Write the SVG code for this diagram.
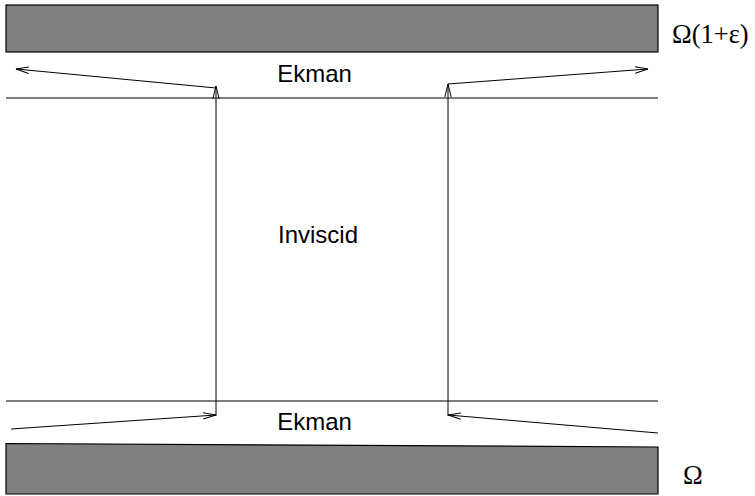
<svg xmlns="http://www.w3.org/2000/svg" width="755" height="496" viewBox="0 0 755 496">
<defs>
<marker id="ah" markerWidth="14" markerHeight="8" refX="13" refY="4" orient="auto" markerUnits="userSpaceOnUse">
<path d="M0,0.8 L13,4 L0,7.2" fill="none" stroke="#000" stroke-width="1"/>
</marker>
<style>
.wall{fill:#808080;stroke:#000;stroke-width:1.2}
.ln{stroke:#000;stroke-width:1;fill:none}
.ar{stroke:#000;stroke-width:1;fill:none;marker-end:url(#ah)}
.lbl{font-family:"Liberation Sans",Arial,sans-serif;font-size:24px;fill:#000}
.om{font-family:"Liberation Serif","Times New Roman",serif;font-size:26.5px;fill:#000}
</style>
</defs>
<g id="top-wall">
<rect class="wall" x="6" y="5" width="652" height="47"/>
<text class="om" x="672" y="43">Ω(1+ε)</text>
</g>
<g id="bottom-wall">
<polygon class="wall" points="6,443.5 658,447 658,494 6,494"/>
<text class="om" x="683" y="484">Ω</text>
</g>
<g id="top-ekman">
<line class="ln" x1="6" y1="98" x2="658" y2="98"/>
<text class="lbl" x="314.5" y="82" text-anchor="middle">Ekman</text>
</g>
<g id="inviscid">
<text class="lbl" x="318" y="243" text-anchor="middle">Inviscid</text>
</g>
<g id="bottom-ekman">
<line class="ln" x1="6" y1="401" x2="658" y2="401"/>
<text class="lbl" x="314.5" y="430" text-anchor="middle">Ekman</text>
</g>
<g id="connectors">
<line class="ar" x1="216" y1="416" x2="216" y2="86"/>
<line class="ar" x1="216" y1="88" x2="16" y2="69"/>
<line class="ar" x1="448" y1="416" x2="448" y2="84"/>
<line class="ar" x1="448" y1="84" x2="648" y2="69"/>
<line class="ar" x1="11" y1="429" x2="216" y2="415"/>
<line class="ar" x1="658" y1="433" x2="448" y2="415"/>
</g>
</svg>
